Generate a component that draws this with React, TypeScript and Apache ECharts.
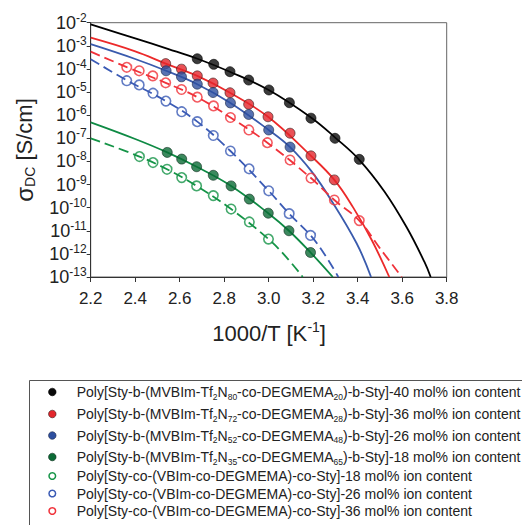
import React, { useEffect, useRef } from "react";
import * as echarts from "echarts";

// ---------- data (x = 1000/T [1/K], y = log10 of sigma_DC [S/cm]) ----------
const legendLabels = [
  "Poly[Sty-b-(MVBIm-Tf{s|2}N{s|80}-co-DEGMEMA{s|20})-b-Sty]-40 mol% ion content",
  "Poly[Sty-b-(MVBIm-Tf{s|2}N{s|72}-co-DEGMEMA{s|28})-b-Sty]-36 mol% ion content",
  "Poly[Sty-b-(MVBIm-Tf{s|2}N{s|52}-co-DEGMEMA{s|48})-b-Sty]-26 mol% ion content",
  "Poly[Sty-b-(MVBIm-Tf{s|2}N{s|35}-co-DEGMEMA{s|65})-b-Sty]-18 mol% ion content",
  "Poly[Sty-co-(VBIm-co-DEGMEMA)-co-Sty]-18 mol% ion content",
  "Poly[Sty-co-(VBIm-co-DEGMEMA)-co-Sty]-26 mol% ion content",
  "Poly[Sty-co-(VBIm-co-DEGMEMA)-co-Sty]-36 mol% ion content",
];

const blackX = [2.679, 2.753, 2.826, 2.91, 3.001, 3.093, 3.19, 3.298, 3.407];
const blackY = [-3.56, -3.8, -4.12, -4.48, -4.91, -5.46, -6.13, -7.0, -7.91];
const redX = [2.537, 2.608, 2.679, 2.75, 2.826, 2.91, 2.997, 3.096, 3.19, 3.295];
const redY = [-3.77, -4.01, -4.3, -4.61, -5.03, -5.53, -6.07, -6.78, -7.76, -8.8];
const blueX = [2.539, 2.608, 2.679, 2.75, 2.828, 2.91, 3.0, 3.096];
const blueY = [-4.08, -4.34, -4.66, -5.02, -5.47, -5.97, -6.64, -7.38];
const greenX = [2.544, 2.609, 2.676, 2.751, 2.831, 2.913, 2.998, 3.091, 3.188];
const greenY = [-7.61, -7.9, -8.23, -8.6, -9.06, -9.63, -10.24, -11.0, -11.94];
const openGreenX = [2.419, 2.48, 2.543, 2.609, 2.676, 2.751, 2.831, 2.913, 2.999];
const openGreenY = [-7.79, -8.05, -8.34, -8.7, -9.06, -9.48, -10.06, -10.62, -11.36];
const openBlueX = [2.362, 2.418, 2.48, 2.538, 2.609, 2.679, 2.751, 2.828, 2.912, 3.0, 3.092, 3.188];
const openBlueY = [-4.51, -4.69, -5.05, -5.39, -5.85, -6.28, -6.88, -7.55, -8.32, -9.27, -10.26, -11.2];
const openRedX = [2.362, 2.418, 2.479, 2.537, 2.608, 2.679, 2.752, 2.828, 2.911, 2.994, 3.096, 3.19, 3.295, 3.407];
const openRedY = [-3.93, -4.08, -4.3, -4.6, -4.89, -5.22, -5.6, -6.1, -6.64, -7.19, -7.94, -8.72, -9.67, -10.56];

// fitted curves
const blackFitX = [2.2, 2.4, 2.55, 2.68, 2.82, 3.0, 3.19, 3.3, 3.407, 3.52, 3.62, 3.7, 3.728];
const blackFitY = [-2.07, -2.68, -3.14, -3.56, -4.1, -4.91, -6.1, -6.98, -7.93, -9.3, -10.85, -12.35, -13];
const redFitX = [2.2, 2.4, 2.537, 2.679, 2.826, 2.997, 3.19, 3.295, 3.38, 3.463, 3.542];
const redFitY = [-2.65, -3.24, -3.77, -4.3, -5.03, -6.07, -7.76, -8.8, -10.0, -11.4, -13];
const blueFitX = [2.2, 2.4, 2.539, 2.679, 2.828, 3.0, 3.096, 3.19, 3.276, 3.395, 3.46];
const blueFitY = [-2.93, -3.57, -4.08, -4.66, -5.47, -6.64, -7.38, -8.4, -9.6, -11.54, -13];
const greenFitX = [2.2, 2.4, 2.544, 2.676, 2.831, 2.998, 3.091, 3.188, 3.288];
const greenFitY = [-6.31, -7.03, -7.61, -8.23, -9.06, -10.24, -11.0, -11.94, -13];
const openRedFitX = [2.2, 2.362, 2.537, 2.679, 2.828, 2.994, 3.19, 3.295, 3.407, 3.5, 3.598];
const openRedFitY = [-3.25, -3.92, -4.6, -5.22, -6.1, -7.19, -8.72, -9.67, -10.56, -11.76, -13];
const openBlueFitX = [2.2, 2.362, 2.538, 2.679, 2.828, 3.0, 3.092, 3.188, 3.25, 3.313];
const openBlueFitY = [-3.58, -4.49, -5.39, -6.28, -7.55, -9.27, -10.26, -11.2, -12.0, -13];
const openGreenFitX = [2.2, 2.419, 2.543, 2.676, 2.831, 2.999, 3.08, 3.153];
const openGreenFitY = [-7.0, -7.79, -8.34, -9.06, -10.06, -11.36, -12.15, -13];

// ---------- styles ----------
const FONT = "'Liberation Sans', Arial, sans-serif";
const W = 522;
const H = 525;
const GRID = { left: 90.7, top: 22.7, right: 75.3, bottom: 248 };

const pairs = (xs: number[], ys: number[]) => xs.map((x, i) => [x, ys[i]]);

type Def = {
  x: number[]; y: number[]; fx: number[]; fy: number[];
  open: boolean; fill: string; stroke: string; line: string;
};

const defs: Def[] = [
  { x: blackX, y: blackY, fx: blackFitX, fy: blackFitY, open: false, fill: "#0a0a0a", stroke: "#000", line: "#000" },
  { x: redX, y: redY, fx: redFitX, fy: redFitY, open: false, fill: "#e3262c", stroke: "#3a2020", line: "#ec2a2a" },
  { x: blueX, y: blueY, fx: blueFitX, fy: blueFitY, open: false, fill: "#2d4f9f", stroke: "#1e2a4a", line: "#3a5bad" },
  { x: greenX, y: greenY, fx: greenFitX, fy: greenFitY, open: false, fill: "#0b6b36", stroke: "#103020", line: "#0e8a44" },
  { x: openGreenX, y: openGreenY, fx: openGreenFitX, fy: openGreenFitY, open: true, fill: "none", stroke: "#159447", line: "#159447" },
  { x: openBlueX, y: openBlueY, fx: openBlueFitX, fy: openBlueFitY, open: true, fill: "none", stroke: "#3b5bb5", line: "#3b5bb5" },
  { x: openRedX, y: openRedY, fx: openRedFitX, fy: openRedFitY, open: true, fill: "none", stroke: "#f0323a", line: "#f0323a" },
];

const legendRowY = [392, 414, 435.5, 457, 476, 493.5, 511];

export default function App() {
  const ref = useRef<HTMLDivElement>(null);
  useEffect(() => {
    if (!ref.current) return;
    const chart = echarts.init(ref.current, null, { renderer: "svg" });

    const series: any[] = [];
    defs.forEach((d, i) => {
      series.push({
        type: "line",
        name: "fit " + (i + 1),
        data: pairs(d.fx, d.fy),
        symbol: "none",
        showSymbol: false,
        smooth: 0.4,
        silent: true,
        z: 2,
        lineStyle: { color: d.line, width: 1.8, type: d.open ? [10, 5] : "solid" },
      });
    });
    defs.forEach((d, i) => {
      series.push({
        type: "scatter",
        name: legendLabels[i],
        data: pairs(d.x, d.y),
        symbol: "circle",
        symbolSize: d.open ? 9.5 : 10,
        z: 3,
        itemStyle: d.open
          ? { color: "transparent", borderColor: d.stroke, borderWidth: 1.6 }
          : { color: d.fill, borderColor: d.stroke, borderWidth: 0.8 },
      });
    });

    const legendGraphics: any[] = [
      {
        type: "rect",
        shape: { x: 29.5, y: 380.5, width: 520, height: 200 },
        style: { fill: "none", stroke: "#555", lineWidth: 1 },
      },
    ];
    defs.forEach((d, i) => {
      legendGraphics.push({
        type: "circle",
        shape: { cx: 52.3, cy: legendRowY[i], r: d.open ? 3.3 : 3.8 },
        style: d.open
          ? { fill: "none", stroke: d.stroke, lineWidth: 1.5 }
          : { fill: d.fill, stroke: d.stroke, lineWidth: 0.6 },
      });
      legendGraphics.push({
        type: "text",
        x: 76.7,
        y: legendRowY[i],
        style: {
          text: legendLabels[i],
          fontFamily: FONT,
          fontSize: 14,
          fill: "#222",
          lineHeight: 18,
          verticalAlign: "middle",
          align: "left",
          rich: {
            s: { fontSize: 8.5, fontFamily: FONT, fill: "#222", verticalAlign: "bottom", lineHeight: 18 },
          },
        },
      });
    });

    chart.setOption({
      animation: false,
      backgroundColor: "#fff",
      grid: {
        ...GRID,
        show: true,
        borderColor: "#666",
        borderWidth: 1,
        containLabel: false,
      },
      xAxis: {
        type: "value",
        min: 2.2,
        max: 3.8,
        interval: 0.2,
        axisLine: { show: true, onZero: false, lineStyle: { color: "#333", width: 1 } },
        axisTick: { show: true, inside: false, length: 5, lineStyle: { color: "#333" } },
        splitLine: { show: false },
        axisLabel: {
          margin: 13,
          fontSize: 17,
          fontFamily: FONT,
          color: "#222",
          formatter: (v: number) => v.toFixed(1),
        },
      },
      yAxis: {
        type: "value",
        min: -13,
        max: -2,
        interval: 1,
        axisLine: { show: true, onZero: false, lineStyle: { color: "#333", width: 1 } },
        axisTick: { show: true, inside: false, length: 4, lineStyle: { color: "#333" } },
        splitLine: { show: false },
        axisLabel: {
          margin: 4,
          formatter: (v: number) => `{b|10}{s|${Math.round(v)}}`,
          rich: {
            b: { fontSize: 18, fontFamily: FONT, color: "#222", lineHeight: 22, verticalAlign: "middle" },
            s: { fontSize: 12, fontFamily: FONT, color: "#222", lineHeight: 22, verticalAlign: "top" },
          },
        },
      },
      graphic: [
        {
          type: "text",
          x: 24,
          y: 150,
          rotation: Math.PI / 2,
          style: {
            text: "{g|σ}{d|DC} [S/cm]",
            fontFamily: FONT,
            fontSize: 22,
            fill: "#222",
            align: "center",
            verticalAlign: "middle",
            lineHeight: 26,
            rich: {
              g: { fontSize: 24, fontFamily: FONT, fill: "#222", lineHeight: 26, verticalAlign: "middle" },
              d: { fontSize: 14, fontFamily: FONT, fill: "#222", lineHeight: 26, verticalAlign: "bottom" },
            },
          },
        },
        {
          type: "text",
          x: 269,
          y: 333,
          style: {
            text: "1000/T [K{s|-1}]",
            fontFamily: FONT,
            fontSize: 22,
            fill: "#222",
            align: "center",
            verticalAlign: "middle",
            lineHeight: 26,
            rich: {
              s: { fontSize: 14, fontFamily: FONT, fill: "#222", lineHeight: 26, verticalAlign: "top" },
            },
          },
        },
        ...legendGraphics,
      ],
      series,
    });
    return () => chart.dispose();
  }, []);

  return (
    <div
      ref={ref}
      style={{ position: "fixed", left: 0, top: 0, width: W, height: H, background: "#fff" }}
    />
  );
}
